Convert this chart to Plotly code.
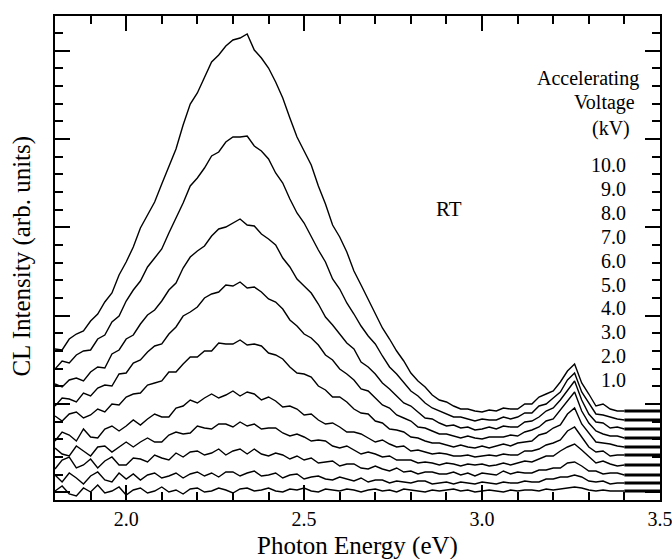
import plotly.graph_objects as go

# ---------------- data ----------------
energy_start, energy_step, n_points = 1.80, 0.02, 81
energy = [round(energy_start + energy_step * i, 2) for i in range(n_points)]  # photon energy (eV)
energy_max = 3.5

voltages = ["1.0", "2.0", "3.0", "4.0", "5.0", "6.0", "7.0", "8.0", "9.0", "10.0"]

cl_1kV = [9, 14, 6, 4, 12, 8, 15, 7, 9, 13,
          5, 10, 12, 7, 9, 13, 8, 10, 6, 11,
          12, 8, 9, 12, 10, 7, 11, 12, 9, 10,
          12, 9, 8, 11, 10, 12, 9, 8, 11, 10,
          9, 11, 10, 8, 10, 11, 9, 10, 8, 11,
          10, 9, 8, 10, 9, 10, 11, 9, 10, 8,
          9, 10, 9, 8, 10, 9, 10, 10, 9, 11,
          10, 11, 12, 13, 12, 10, 9, 10, 9, 9, 9]
cl_2kV = [25, 18, 27, 22, 16, 24, 28, 20, 18, 27,
          21, 26, 20, 25, 27, 22, 24, 27, 22, 26,
          28, 24, 27, 23, 28, 28, 24, 27, 29, 24,
          25, 27, 22, 25, 26, 21, 23, 24, 21, 20,
          23, 21, 19, 22, 18, 20, 20, 17, 19, 18,
          17, 19, 19, 16, 17, 18, 16, 18, 17, 16,
          18, 17, 16, 18, 17, 17, 19, 18, 18, 21,
          21, 23, 23, 25, 23, 19, 18, 19, 16, 17, 17]
cl_3kV = [31, 40, 43, 32, 35, 41, 32, 39, 43, 35,
          35, 42, 41, 38, 45, 42, 40, 47, 43, 48,
          49, 45, 47, 51, 45, 49, 51, 46, 51, 46,
          44, 47, 45, 41, 44, 40, 42, 37, 38, 39,
          34, 36, 36, 32, 31, 34, 31, 29, 32, 28,
          29, 26, 28, 28, 26, 26, 28, 25, 27, 24,
          27, 26, 25, 29, 26, 28, 27, 27, 30, 30,
          32, 32, 37, 38, 34, 29, 29, 26, 27, 27, 25]
cl_4kV = [52, 46, 44, 54, 49, 44, 53, 54, 48, 53,
          58, 53, 58, 62, 58, 58, 65, 68, 66, 67,
          74, 72, 71, 76, 76, 73, 78, 74, 76, 71,
          72, 72, 67, 64, 66, 63, 59, 60, 59, 54,
          52, 54, 50, 46, 48, 46, 43, 44, 40, 40,
          40, 37, 38, 37, 35, 37, 36, 34, 36, 35,
          36, 34, 35, 37, 35, 37, 39, 38, 41, 44,
          44, 49, 53, 56, 50, 43, 37, 39, 36, 34, 35]
cl_5kV = [59, 68, 65, 59, 71, 63, 62, 71, 74, 69,
          74, 80, 75, 81, 86, 83, 83, 92, 94, 100,
          97, 102, 106, 102, 105, 109, 104, 108, 106, 100,
          103, 99, 93, 94, 91, 85, 86, 80, 76, 77,
          73, 68, 68, 66, 62, 58, 60, 56, 53, 54,
          49, 50, 48, 46, 47, 46, 44, 44, 45, 43,
          44, 45, 44, 46, 45, 45, 49, 49, 51, 55,
          57, 60, 69, 73, 63, 53, 48, 49, 44, 45, 45]
cl_6kV = [84, 79, 86, 88, 82, 85, 91, 88, 96, 95,
          103, 106, 107, 115, 117, 119, 128, 128, 136, 143,
          143, 149, 149, 157, 156, 156, 160, 155, 156, 154,
          147, 145, 141, 133, 127, 126, 123, 114, 110, 103,
          103, 98, 91, 87, 86, 79, 77, 71, 70, 68,
          63, 62, 59, 57, 57, 55, 53, 55, 53, 52,
          54, 52, 54, 56, 54, 57, 58, 59, 65, 67,
          72, 75, 86, 92, 76, 67, 58, 57, 56, 54, 53]
cl_7kV = [94, 102, 101, 98, 107, 104, 112, 115, 114, 126,
          127, 137, 140, 148, 154, 156, 166, 173, 184, 188,
          193, 202, 206, 208, 215, 214, 218, 212, 213, 208,
          201, 198, 191, 180, 174, 166, 162, 155, 145, 140,
          131, 126, 120, 111, 109, 102, 95, 92, 85, 82,
          79, 73, 72, 69, 66, 66, 64, 62, 64, 62,
          61, 63, 63, 63, 65, 64, 68, 70, 73, 79,
          81, 90, 99, 108, 89, 77, 69, 66, 64, 64, 62]
cl_8kV = [116, 113, 120, 122, 119, 128, 133, 132, 146, 150,
          161, 165, 176, 185, 190, 199, 210, 217, 232, 243,
          249, 254, 264, 271, 273, 277, 281, 275, 274, 266,
          261, 255, 242, 233, 221, 214, 207, 196, 183, 175,
          166, 157, 151, 138, 133, 126, 117, 111, 104, 97,
          94, 88, 82, 81, 77, 74, 75, 72, 73, 70,
          71, 73, 71, 74, 73, 73, 78, 79, 83, 89,
          92, 100, 109, 119, 100, 86, 78, 77, 72, 73, 71]
cl_9kV = [131, 139, 137, 145, 149, 150, 161, 165, 178, 184,
          199, 210, 219, 233, 242, 251, 267, 282, 297, 314,
          322, 332, 344, 348, 358, 363, 363, 364, 354, 349,
          341, 327, 317, 301, 287, 277, 263, 250, 238, 221,
          211, 197, 186, 174, 164, 156, 144, 133, 126, 117,
          109, 104, 97, 92, 89, 86, 83, 83, 81, 79,
          81, 80, 80, 83, 81, 83, 87, 87, 94, 96,
          102, 108, 120, 127, 108, 97, 86, 85, 83, 81, 80]
cl_10kV = [151, 150, 161, 166, 169, 179, 186, 198, 207, 225,
           238, 253, 272, 285, 298, 316, 334, 351, 375, 396,
           407, 423, 438, 445, 454, 460, 462, 466, 450, 442,
           432, 418, 402, 382, 363, 349, 335, 314, 296, 275,
           263, 248, 229, 215, 201, 187, 172, 161, 149, 139,
           127, 119, 113, 105, 100, 98, 94, 91, 91, 89,
           88, 90, 89, 92, 91, 91, 96, 96, 103, 106,
           109, 118, 129, 136, 117, 106, 94, 96, 91, 89, 89]

spectra = [cl_1kV, cl_2kV, cl_3kV, cl_4kV, cl_5kV,
           cl_6kV, cl_7kV, cl_8kV, cl_9kV, cl_10kV]

# ---------------- figure ----------------
FONT = "Liberation Serif"
fig = go.Figure()

for v, s in zip(voltages, spectra):
    fig.add_trace(go.Scatter(x=energy, y=s, mode="lines", name=v + " kV",
                             line=dict(color="black", width=1.4),
                             showlegend=False, hoverinfo="skip"))

# thick end markers from the last data point to the right frame
bx, by = [], []
for s in spectra:
    bx += [energy[-1], energy_max, None]
    by += [s[-1], s[-1], None]
fig.add_trace(go.Scatter(x=bx, y=by, mode="lines",
                         line=dict(color="black", width=3),
                         showlegend=False, hoverinfo="skip"))

fig.update_layout(
    width=672, height=559,
    margin=dict(l=55, r=12, t=16, b=59, autoexpand=False),
    plot_bgcolor="white", paper_bgcolor="white",
    showlegend=False,
    font=dict(family=FONT, color="black", size=20),
)

fig.update_xaxes(
    range=[1.8, energy_max], showline=True, linecolor="black", linewidth=2,
    mirror="ticks", ticks="inside", ticklen=15, tickwidth=2, tickcolor="black",
    tick0=2.0, dtick=0.5, tickformat=".1f", tickfont=dict(size=20, family=FONT),
    showgrid=False, zeroline=False, automargin=False,
    ticklabeloverflow="allow",
    minor=dict(ticks="inside", ticklen=8, tickwidth=2, tickcolor="black",
               tick0=2.0, dtick=0.1, showgrid=False),
)
fig.update_yaxes(
    range=[0, 484], showline=True, linecolor="black", linewidth=2,
    mirror="ticks", ticks="inside", ticklen=15, tickwidth=2, tickcolor="black",
    tick0=7.65, dtick=88.35, showticklabels=False,
    showgrid=False, zeroline=False, automargin=False,
    minor=dict(ticks="inside", ticklen=8, tickwidth=2, tickcolor="black",
               tick0=7.65, dtick=17.67, showgrid=False),
)

ann = []
ann.append(dict(text="Photon Energy (eV)", x=0.5, y=-0.095, xref="paper", yref="paper",
                xanchor="center", yanchor="middle", showarrow=False,
                font=dict(size=25, family=FONT)))
ann.append(dict(text="CL Intensity (arb. units)", x=-0.0545, y=0.503, xref="paper", yref="paper",
                xanchor="center", yanchor="middle", showarrow=False, textangle=-90,
                font=dict(size=25, family=FONT)))
ann.append(dict(text="RT", x=0.651, y=0.602, xref="paper", yref="paper",
                xanchor="center", yanchor="middle", showarrow=False,
                font=dict(size=21, family=FONT)))
ann.append(dict(text="Accelerating", x=0.969, y=0.870, xref="paper", yref="paper",
                xanchor="right", yanchor="middle", showarrow=False,
                font=dict(size=20, family=FONT)))
ann.append(dict(text="Voltage", x=0.962, y=0.822, xref="paper", yref="paper",
                xanchor="right", yanchor="middle", showarrow=False,
                font=dict(size=20, family=FONT)))
ann.append(dict(text="(kV)", x=0.954, y=0.767, xref="paper", yref="paper",
                xanchor="right", yanchor="middle", showarrow=False,
                font=dict(size=20, family=FONT)))
for k, v in enumerate(voltages):
    ann.append(dict(text=v, x=0.947, y=0.248 + k * 0.04924, xref="paper", yref="paper",
                    xanchor="right", yanchor="middle", showarrow=False,
                    font=dict(size=20, family=FONT)))
fig.update_layout(annotations=ann)

fig.write_html("out.html", config={"displayModeBar": False},
               post_script="document.body.style.margin='0';document.body.style.overflow='hidden';")
